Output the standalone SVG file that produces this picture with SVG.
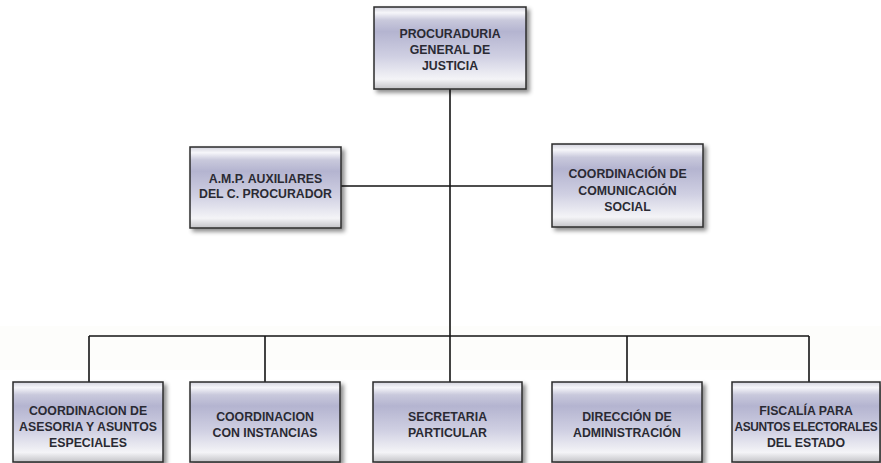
<svg xmlns="http://www.w3.org/2000/svg" width="881" height="463" viewBox="0 0 881 463">
<defs>
<linearGradient id="g" x1="0" y1="0" x2="0" y2="1">
<stop offset="0" stop-color="#d4d4de"/>
<stop offset="0.07" stop-color="#f6f6fa"/>
<stop offset="0.16" stop-color="#c9c9dc"/>
<stop offset="0.3" stop-color="#b4b4d0"/>
<stop offset="0.6" stop-color="#cfcfe2"/>
<stop offset="0.88" stop-color="#f4f4f7"/>
<stop offset="1" stop-color="#c4c4c8"/>
</linearGradient>
<filter id="sh" x="-10%" y="-10%" width="125%" height="130%">
<feDropShadow dx="3" dy="3" stdDeviation="2" flood-color="#000" flood-opacity="0.45"/>
</filter>
</defs>
<style>
.box{fill:url(#g);stroke:#2b2b2b;stroke-width:1.5;filter:url(#sh)}
.t{font-family:"Liberation Sans",Arial,sans-serif;font-weight:700;font-size:12.3px;fill:#2a2a33;text-anchor:middle}
.n{font-size:11.9px;letter-spacing:-0.35px}
.c{stroke:#151515;stroke-width:1.6;fill:none}
</style>
<rect x="0" y="326" width="881" height="44" fill="#fdfdfb"/>
<g id="connectors">
<path class="c" d="M450 89V382M341 186H552M89 336H809M89 336V382M265 336V382M627 336V382M809 336V382"/>
</g>
<g id="procuraduria">
<rect class="box" x="374" y="7" width="152" height="82"/>
<text class="t" x="450" y="38">PROCURADURIA</text>
<text class="t" x="450" y="54">GENERAL DE</text>
<text class="t" x="450" y="70">JUSTICIA</text>
</g>
<g id="amp">
<rect class="box" x="190" y="147" width="151" height="81"/>
<text class="t" x="265.5" y="183">A.M.P. AUXILIARES</text>
<text class="t" x="265.5" y="198">DEL C. PROCURADOR</text>
</g>
<g id="comunicacion">
<rect class="box" x="552" y="144" width="151" height="83"/>
<text class="t" x="627.5" y="178">COORDINACIÓN DE</text>
<text class="t" x="627.5" y="195">COMUNICACIÓN</text>
<text class="t" x="627.5" y="211">SOCIAL</text>
</g>
<g id="asesoria">
<rect class="box" x="13" y="382" width="150" height="80"/>
<text class="t" x="88" y="415">COORDINACION DE</text>
<text class="t" x="88" y="431">ASESORIA Y ASUNTOS</text>
<text class="t" x="88" y="447">ESPECIALES</text>
</g>
<g id="instancias">
<rect class="box" x="190" y="382" width="150" height="80"/>
<text class="t" x="265" y="421">COORDINACION</text>
<text class="t" x="265" y="437">CON INSTANCIAS</text>
</g>
<g id="secretaria">
<rect class="box" x="373" y="382" width="149" height="80"/>
<text class="t" x="447.5" y="421">SECRETARIA</text>
<text class="t" x="447.5" y="437">PARTICULAR</text>
</g>
<g id="administracion">
<rect class="box" x="552" y="382" width="150" height="80"/>
<text class="t" x="627" y="421">DIRECCIÓN DE</text>
<text class="t" x="627" y="437">ADMINISTRACIÓN</text>
</g>
<g id="fiscalia">
<rect class="box" x="732" y="382" width="148" height="80"/>
<text class="t" x="806" y="415">FISCALÍA PARA</text>
<text class="t n" x="806" y="431">ASUNTOS ELECTORALES</text>
<text class="t" x="806" y="447">DEL ESTADO</text>
</g>
</svg>
